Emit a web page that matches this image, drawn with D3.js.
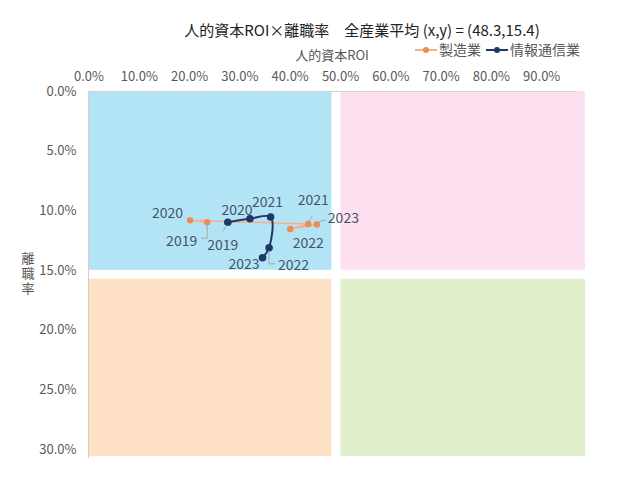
<!DOCTYPE html>
<html>
<head>
<meta charset="utf-8">
<script src="https://cdn.jsdelivr.net/npm/d3@7"></script>
<style>
  body { margin: 0; background: #fff; }
  text { font-family: "Noto Sans CJK JP", "Noto Sans", sans-serif; }
</style>
</head>
<body>
<svg id="chart" width="640" height="485"></svg>
<script>
// data
const years = ["2019", "2020", "2021", "2022", "2023"];
const mfgROI = [0.236, 0.202, 0.437, 0.401, 0.454];
const mfgTurnover = [0.110, 0.1084, 0.1115, 0.1157, 0.1118];
const ictROI = [0.277, 0.321, 0.362, 0.359, 0.346];
const ictTurnover = [0.110, 0.1071, 0.1056, 0.1314, 0.1397];
const seriesNames = ["製造業", "情報通信業"];
const avgROI = 0.483, avgTurnover = 0.154;
const xTicks = [0, 0.1, 0.2, 0.3, 0.4, 0.5, 0.6, 0.7, 0.8, 0.9];
const yTicks = [0, 0.05, 0.10, 0.15, 0.20, 0.25, 0.30];

// label placement (dx, dy from point, anchor, leader polyline)
const mfgLabels = [
  { dx: -10, dy: 19, anchor: "end", leader: [[0, 2], [0, 16], [-6, 16]] },
  { dx: -7, dy: -7, anchor: "end" },
  { dx: 5, dy: -24, anchor: "middle", leader: [[0, -2], [4, -8]] },
  { dx: 18, dy: 14, anchor: "middle" },
  { dx: 11, dy: -6, anchor: "start", leader: [[2, -2], [5, -4], [9, -4]] }
];
const ictLabels = [
  { dx: -5, dy: 23, anchor: "middle", leader: [[-1, 3], [-5, 9]] },
  { dx: -13, dy: -9, anchor: "middle" },
  { dx: -3, dy: -15, anchor: "middle" },
  { dx: 9, dy: 17, anchor: "start", leader: [[0, 3], [0, 16], [6, 16]] },
  { dx: -3, dy: 6, anchor: "end" }
];

const svg = d3.select("#chart");
const x = d3.scaleLinear().domain([0, 0.97]).range([88.5, 576.4]);
const y = d3.scaleLinear().domain([0, 0.30]).range([91, 449]);
const pct = d3.format(".1%");

// quadrant backgrounds
const xEnd = 0.987, yEnd = 0.306;
const quads = [
  { x0: 0, x1: avgROI, y0: 0, y1: avgTurnover, gx: [0, 0], gy: [0, -5], fill: "#b3e4f6" },
  { x0: avgROI, x1: xEnd, y0: 0, y1: avgTurnover, gx: [9, 0], gy: [0, -5], fill: "#fde0ef" },
  { x0: 0, x1: avgROI, y0: avgTurnover, y1: yEnd, gx: [0, 0], gy: [4, 0], fill: "#fee0c4" },
  { x0: avgROI, x1: xEnd, y0: avgTurnover, y1: yEnd, gx: [9, 0], gy: [4, 0], fill: "#e1efcc" }
];
svg.append("g").selectAll("rect").data(quads).join("rect")
  .attr("x", d => x(d.x0) + d.gx[0])
  .attr("y", d => y(d.y0) + d.gy[0])
  .attr("width", d => x(d.x1) + d.gx[1] - x(d.x0) - d.gx[0])
  .attr("height", d => y(d.y1) + d.gy[1] - y(d.y0) - d.gy[0])
  .attr("fill", d => d.fill);

// axes
const xAxis = svg.append("g").attr("transform", `translate(0,${y(0)})`)
  .call(d3.axisTop(x).tickValues(xTicks).tickFormat(pct).tickSize(0).tickPadding(10));
const yAxis = svg.append("g").attr("transform", `translate(${x(0)},0)`)
  .call(d3.axisLeft(y).tickValues(yTicks).tickFormat(pct).tickSize(0).tickPadding(12));
[xAxis, yAxis].forEach(g => {
  g.select(".domain").attr("stroke", "#d0d0d0");
  g.selectAll("text").attr("fill", "#595959").attr("font-size", 13);
});
yAxis.select(".domain").attr("d", `M0,${y(0)}V${y(yEnd) + 2}`);

// axis titles
svg.append("text").attr("x", 332).attr("y", 60).attr("text-anchor", "middle")
  .attr("font-size", 13).attr("fill", "#595959").text("人的資本ROI");
svg.append("text").attr("x", 28).attr("y", 252)
  .style("writing-mode", "vertical-rl").style("text-orientation", "upright")
  .attr("letter-spacing", 2)
  .attr("font-size", 13).attr("fill", "#595959").text("離職率");

// title
svg.append("text").attr("x", 362).attr("y", 36).attr("text-anchor", "middle")
  .attr("font-size", 15).attr("fill", "#222")
  .text("人的資本ROI×離職率　全産業平均 (x,y) = (48.3,15.4)");

// series
const series = [
  { name: seriesNames[0], xs: mfgROI, ys: mfgTurnover, labels: mfgLabels,
    line: "#f4b08a", dot: "#f08a50", curve: d3.curveLinear, r: 3.2, w: 1.5 },
  { name: seriesNames[1], xs: ictROI, ys: ictTurnover, labels: ictLabels,
    line: "#203864", dot: "#203864", curve: d3.curveCatmullRom.alpha(0.5), r: 3.8, w: 2 }
];

series.forEach(s => {
  const pts = years.map((yr, i) => ({ yr, px: x(s.xs[i]), py: y(s.ys[i]), lab: s.labels[i] }));
  const g = svg.append("g");
  g.append("path").datum(pts)
    .attr("d", d3.line().x(d => d.px).y(d => d.py).curve(s.curve))
    .attr("fill", "none").attr("stroke", s.line).attr("stroke-width", s.w);
  g.selectAll("circle").data(pts).join("circle")
    .attr("cx", d => d.px).attr("cy", d => d.py).attr("r", s.r).attr("fill", s.dot);
});

// data labels drawn on top
series.forEach(s => {
  const pts = years.map((yr, i) => ({ yr, px: x(s.xs[i]), py: y(s.ys[i]), lab: s.labels[i] }));
  const g = svg.append("g");
  g.selectAll("polyline").data(pts.filter(d => d.lab.leader)).join("polyline")
    .attr("points", d => d.lab.leader.map(p => [d.px + p[0], d.py + p[1]].join(",")).join(" "))
    .attr("fill", "none").attr("stroke", "#a6a6a6").attr("stroke-width", 1);
  g.selectAll("text").data(pts).join("text")
    .attr("x", d => d.px + d.lab.dx).attr("y", d => d.py + d.lab.dy)
    .attr("dy", "0.35em").attr("text-anchor", d => d.lab.anchor)
    .attr("font-size", 14).attr("fill", "#44546a").text(d => d.yr);
});

// legend
const leg = svg.append("g").attr("transform", "translate(415,50)");
series.forEach((s, i) => {
  const lx = i ? 71 : 0;
  leg.append("line").attr("x1", lx).attr("x2", lx + 22).attr("y1", 0).attr("y2", 0)
    .attr("stroke", s.line).attr("stroke-width", 2);
  leg.append("circle").attr("cx", lx + 11).attr("cy", 0).attr("r", 3).attr("fill", s.dot);
  leg.append("text").attr("x", lx + 24).attr("y", 0).attr("dy", "0.35em")
    .attr("font-size", 14).attr("fill", "#595959").text(s.name);
});
</script>
</body>
</html>
